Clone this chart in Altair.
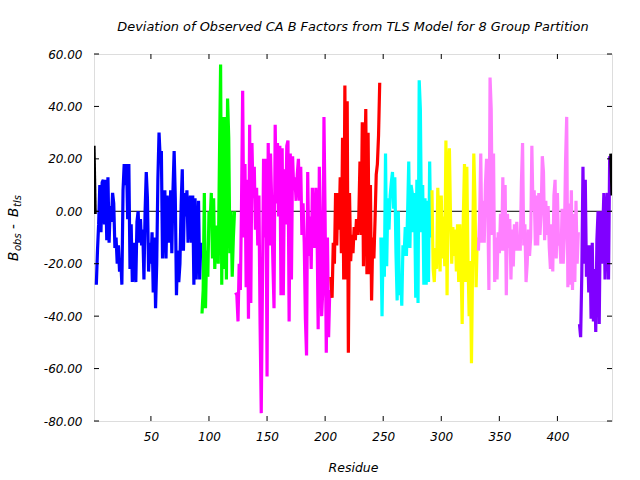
import altair as alt
import pandas as pd

# ---- data (deviation per residue, by TLS group) ----
black_start = [25, -1]
blue = [-28, -15, -5, 10, -8, 11, 12, -5, 12, -11,
        13, -12, 2, -4, 7, 3, -14, -10, -20, -13,
        -23, -18, -28, 8, 18, 10, 18, -3, 18, -22,
        -5, -27, -12, -20, -27, -4, 0, -12, -3, -13,
        -7, -26, 0, 15, 5, -23, -12, -20, -8, -31,
        -10, -37, -20, 12, 30, 20, 23, -18, 0, 8,
        -18, 6, -3, -12, 8, -16, 8, 23, 5, -32,
        -15, -27, -20, 2, 16, -15, 7, -2, 8, -12,
        0, 6, -12, 6, -28, 5, -26, -10, 4, -26,
        -12]
green = [-39, -30, 7, -37, -15, -25, 0, -4, 7, -18,
         5, -22, -6, -6, -20, 19, 56, -28, 36, -22,
         36, -26, 43, 28, -16, 0, -25, -10, 0]
magenta = [-31, -32, -42, -20, -30, 2, 46, -10, 18, -29,
           12, -41, 33, -35, 26, 5, 17, -7, 9, -13,
           6, -43, -77, -30, 20, -10, 20, -63, 26, -13,
           22, 3, -19, -37, 33, 3, 26, -2, 25, -32,
           24, -32, 16, -5, 25, 27, -42, 22, -26, 21,
           8, 13, 4, 14, 20, 4, 17, -9, 3, -12,
           -41, -55, 15, -17, -2, -22, 9, -6, -14, 9,
           -4, -45, 17, -8, -40, -30, 36, -3, -54, -10,
           -48, -30]
red = [-25, -33, -12, -20, 7, -13, 7, -7, 13, -16,
       28, -26, 48, -26, 42, -54, 7, -19, -9, -16,
       -6, -11, -3, -9, -2, 19, -9, 34, -21, 13,
       39, -24, 30, -24, 10, -34, -10, -18, -3, 14,
       18, 29, 49]
cyan = [-10, -40, -10, -25, 22, -21, 5, -7, 6, 11,
        15, 1, 13, -16, -34, 0, -32, -25, -36, -13,
        -17, -6, -17, -1, 19, -14, 10, 7, -8, 7,
        -33, 12, -35, 50, 39, -8, 10, -28, 5, -28,
        4, -27, 19, -10]
yellow = [8, -22, -27, -14, -22, 9, -5, -23, 6, -18,
          -2, -21, 27, -32, 16, 24, -3, -20, -6, -17,
          -7, -23, -5, -27, -5, -20, -43, -2, 18, -27,
          17, -19, -40, -19, -58, -19, 22, 5, -29, -10]
pink = [-15, -3, 22, -12, 4, -12, 10, 20, 5, -30,
        51, 39, -9, 22, -27, -10, -26, -8, -16, -1,
        -15, 13, -15, 10, -32, -1, -14, -3, -26, -7,
        -21, -5, -15, -4, -15, -11, -15, 11, 26, -13,
        -5, -27, -20, -7, -17, -10, 25, 0, 8, -13,
        6, -13, 7, -9, 0, 21, 15, -11, 4, -9,
        2, -14, -22, -5, -23, 6, 12, -18, 7, -13,
        -11, -20, 1, -20, -10, 19, 36, -29, 3, -28,
        8, -30, -1, -27, 4, -20, -8]
purple = [-43, -48, -24, 17, -20, 12, -25, -13, -31, -13,
          -41, -12, -42, -22, -46, -11, 0, -43, 0, -20,
          -8, 7, -26, -2, 7, -26, 21]
black_end = [22, 6]

group_names = ["start", "g1", "g2", "g3", "g4", "g5", "g6", "g7", "g8", "end"]
group_colors = ["#000000", "#0000ff", "#00ff00", "#ff00ff", "#ff0000",
                "#00ffff", "#ffff00", "#ff80ff", "#8000ff", "#000000"]
group_values = [black_start, blue, green, magenta, red, cyan, yellow, pink, purple, black_end]

x_ticks = [50, 100, 150, 200, 250, 300, 350, 400]
y_ticks = [-80, -60, -40, -20, 0, 20, 40, 60]

rows = []
r = 1
for name, col, vals in zip(group_names, group_colors, group_values):
    for v in vals:
        rows.append({"residue": r, "dev": v, "group": name, "color": col})
        r += 1
df = pd.DataFrame(rows)

W, H = 518, 367
FONT = "DejaVu Sans"
xs = alt.Scale(domain=[1, 447], nice=False, zero=False)
ys = alt.Scale(domain=[-80, 60], nice=False, zero=False)

x_axis = alt.Axis(values=x_ticks, format="d", ticks=False, tickSize=0, domain=False, grid=False,
                  labelFont=FONT, labelFontSize=12, labelFontStyle="italic", labelColor="black",
                  labelPadding=10, title="Residue", titleFont=FONT, titleFontSize=12.5,
                  titleFontStyle="italic", titleFontWeight="normal", titleColor="black",
                  titleY=50, titleBaseline="alphabetic")
y_axis = alt.Axis(values=y_ticks, ticks=False, tickSize=0, domain=False, grid=False,
                  labelExpr="datum.value < 0 ? '-' + format(-datum.value, '.2f') : format(datum.value, '.2f')",
                  labelFont=FONT, labelFontSize=12, labelFontStyle="italic", labelColor="black",
                  labelPadding=12, title=None)

zero = alt.Chart(pd.DataFrame({"z": [0]})).mark_rule(color="black", strokeWidth=1).encode(
    y=alt.Y("z:Q", scale=ys, axis=y_axis))

lines = alt.Chart(df).mark_line(strokeWidth=3.2, strokeJoin="bevel", clip=True).encode(
    x=alt.X("residue:Q", scale=xs, axis=x_axis),
    y=alt.Y("dev:Q", scale=ys, axis=y_axis),
    color=alt.Color("color:N", scale=None),
    detail="group:N",
    order="residue:Q",
)

xt = pd.DataFrame({"t": x_ticks})
yt = pd.DataFrame({"t": y_ticks})
tick_top = alt.Chart(xt).mark_rule(color="black").encode(
    x=alt.X("t:Q", scale=xs), y=alt.value(0), y2=alt.value(5))
tick_bot = alt.Chart(xt).mark_rule(color="black").encode(
    x=alt.X("t:Q", scale=xs), y=alt.value(H - 5), y2=alt.value(H))
tick_left = alt.Chart(yt).mark_rule(color="black").encode(
    y=alt.Y("t:Q", scale=ys), x=alt.value(0), x2=alt.value(5))
tick_right = alt.Chart(yt).mark_rule(color="black").encode(
    y=alt.Y("t:Q", scale=ys), x=alt.value(W - 5), x2=alt.value(W))

# y-axis title with subscripts: B_obs - B_tls (rotated)
def ylab(txt, x, y, size):
    return alt.Chart(pd.DataFrame({"s": [txt]})).mark_text(
        angle=270, align="left", baseline="alphabetic", font=FONT, fontSize=size,
        fontStyle="italic", color="black").encode(
        text="s:N", x=alt.value(x), y=alt.value(y))

ylabel = (ylab("B", -76, 207, 13.5) + ylab("obs", -73, 197, 10) + ylab("-", -76, 175, 13.5)
          + ylab("B", -76, 163, 13.5) + ylab("tls", -73, 153, 10))

chart = alt.layer(zero, lines, tick_top, tick_bot, tick_left, tick_right, ylabel).properties(
    width=W, height=H,
    title=alt.Title("Deviation of Observed CA B Factors from TLS Model for 8 Group Partition",
                    font=FONT, fontSize=12.9, fontStyle="italic", fontWeight="normal",
                    color="black", offset=14, anchor="middle"),
    autosize=alt.AutoSizeParams(type="none"),
    padding={"left": 94, "top": 54, "right": 28, "bottom": 59},
).configure_view(stroke="black", strokeWidth=1).configure(background="white")

chart.save("out.html", embed_options={"renderer": "svg", "actions": False})
